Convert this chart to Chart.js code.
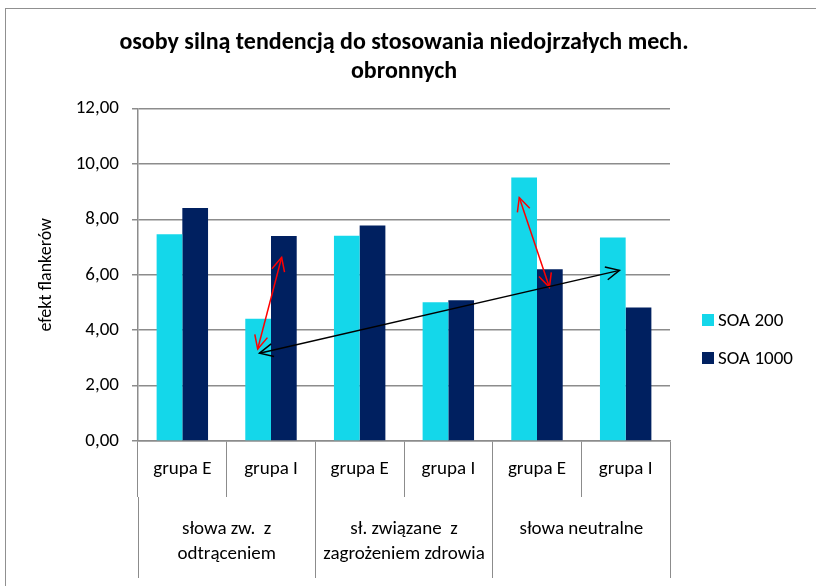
<!DOCTYPE html>
<html>
<head>
<meta charset="utf-8">
<script src="https://cdn.jsdelivr.net/npm/chart.js@4"></script>
<style>
  html, body { margin: 0; padding: 0; background: #fff; }
  #wrap { width: 816px; height: 586px; }
</style>
</head>
<body>
<div id="wrap"><canvas id="barChart" width="816" height="586"></canvas></div>
<script>
const groups = ["grupa E", "grupa I", "grupa E", "grupa I", "grupa E", "grupa I"];
const wordTypes = [["słowa zw.  z", "odtrąceniem"], ["sł. związane  z", "zagrożeniem zdrowia"], ["słowa neutralne"]];
const soa200 = [7.46, 4.41, 7.41, 5.01, 9.51, 7.35];
const soa1000 = [8.41, 7.40, 7.78, 5.08, 6.20, 4.82];
const yTicks = [0, 2, 4, 6, 8, 10, 12];

// arrows drawn over the bars: [x, y] in category index / value units
const arrows = [
  { from: [0.85, 3.32], to: [1.12, 6.63], color: "#ff0000" },
  { from: [3.80, 8.79], to: [4.14, 5.55], color: "#ff0000" },
  { from: [0.87, 3.17], to: [4.93, 6.16], color: "#000000" }
];

const font = "Calibri, Carlito, 'Liberation Sans Narrow', Lato, sans-serif";
const gray = "#8c8c8c";

const frame = {
  id: "frame",
  beforeDraw(chart) {
    const c = chart.ctx;
    c.save();
    c.strokeStyle = "#909090";
    c.lineWidth = 1;
    c.strokeRect(5.5, 8.5, 1000, 1000);
    c.restore();
  }
};

function head(c, x, y, ang, len) {
  c.beginPath();
  c.moveTo(x + len * Math.cos(ang + 0.45), y + len * Math.sin(ang + 0.45));
  c.lineTo(x, y);
  c.lineTo(x + len * Math.cos(ang - 0.45), y + len * Math.sin(ang - 0.45));
  c.stroke();
}

const arrowPlugin = {
  id: "arrows",
  afterDatasetsDraw(chart) {
    const c = chart.ctx, xs = chart.scales.x, ys = chart.scales.y;
    c.save();
    c.lineWidth = 1.5;
    arrows.forEach(a => {
      const x1 = xs.getPixelForValue(a.from[0]), y1 = ys.getPixelForValue(a.from[1]);
      const x2 = xs.getPixelForValue(a.to[0]), y2 = ys.getPixelForValue(a.to[1]);
      c.strokeStyle = a.color;
      c.beginPath();
      c.moveTo(x1, y1);
      c.lineTo(x2, y2);
      c.stroke();
      const ang = Math.atan2(y2 - y1, x2 - x1);
      head(c, x1, y1, ang, 15);
      head(c, x2, y2, ang + Math.PI, 15);
    });
    c.restore();
  }
};

// legend at the right side, placed like the Excel one
const sideLegend = {
  id: "sideLegend",
  afterDraw(chart) {
    const c = chart.ctx;
    c.save();
    c.font = "19px " + font;
    c.textBaseline = "middle";
    chart.data.datasets.forEach((ds, i) => {
      const y = 320 + i * 38;
      c.fillStyle = ds.backgroundColor;
      c.fillRect(702, y - 6, 12, 12);
      c.fillStyle = "#000";
      c.fillText(ds.label, 718, y + 1);
    });
    c.restore();
  }
};

new Chart(document.getElementById("barChart"), {
  type: "bar",
  data: {
    labels: groups,
    datasets: [
      { label: "SOA 200", data: soa200, backgroundColor: "#14d7ea", categoryPercentage: 0.58, barPercentage: 1.0 },
      { label: "SOA 1000", data: soa1000, backgroundColor: "#002060", categoryPercentage: 0.58, barPercentage: 1.0 }
    ]
  },
  options: {
    responsive: false,
    animation: false,
    layout: { padding: { left: 0, right: 8, top: 0, bottom: 8 } },
    plugins: {
      legend: { display: false },
      tooltip: { enabled: false },
      title: {
        display: true,
        text: ["osoby silną tendencją do stosowania niedojrzałych mech.", "obronnych"],
        color: "#000",
        font: { family: font, size: 24, weight: "bold", lineHeight: 1.2 },
        padding: { top: 29, bottom: 22 }
      }
    },
    scales: {
      y: {
        min: 0, max: 12,
        afterFit(scale) { scale.width = 138; },
        afterBuildTicks(scale) { scale.ticks = yTicks.map(v => ({ value: v })); },
        ticks: {
          color: "#000",
          font: { family: font, size: 19 },
          padding: 13,
          callback: v => v.toFixed(2).replace(".", ",")
        },
        grid: { color: gray, lineWidth: 1.5, tickLength: 6 },
        border: { color: gray, width: 1.5 },
        title: { display: true, text: "efekt flankerów", color: "#000", font: { family: font, size: 18 }, padding: { top: 36, bottom: 0 } }
      },
      yRight: {
        position: "right",
        afterFit(scale) { scale.width = 138; },
        ticks: { display: false },
        grid: { display: false },
        border: { display: false }
      },
      x: {
        afterFit(scale) { scale.height = 56; },
        grid: { offset: true, drawOnChartArea: false, color: gray, lineWidth: 1, tickLength: 56 },
        border: { color: gray, width: 1.5 },
        ticks: { color: "#000", font: { family: font, size: 19 }, padding: -39, maxRotation: 0, autoSkip: false }
      },
      x2: {
        type: "category",
        position: "bottom",
        labels: wordTypes,
        afterFit(scale) { scale.height = 81; },
        grid: { offset: true, drawOnChartArea: false, color: gray, lineWidth: 1, tickLength: 81 },
        border: { display: false },
        ticks: { color: "#000", font: { family: font, size: 19, lineHeight: 1.32 }, padding: -61, maxRotation: 0, autoSkip: false }
      }
    }
  },
  plugins: [frame, arrowPlugin, sideLegend]
});
</script>
</body>
</html>
